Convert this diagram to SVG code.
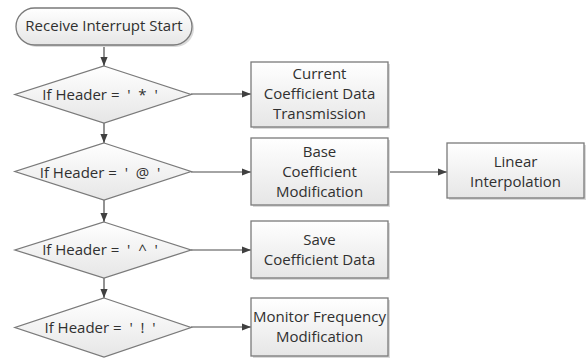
<svg xmlns="http://www.w3.org/2000/svg" width="586" height="359" viewBox="0 0 586 359">
<defs>
<linearGradient id="g" x1="0" y1="0" x2="0" y2="1">
<stop offset="0" stop-color="#ffffff"/>
<stop offset="1" stop-color="#e6e6e6"/>
</linearGradient>
<marker id="ah" viewBox="0 0 10 10" refX="10" refY="5" markerWidth="9" markerHeight="9" markerUnits="userSpaceOnUse" orient="auto">
<path d="M0,1 L10,5 L0,9 z" fill="#404040"/>
</marker>
</defs>
<style>
.s{fill:url(#g);stroke:#7a7a7a;stroke-width:1.3}
.sh{fill:#dadada;stroke:none}
.t{font-family:"Open Sans","Liberation Sans",sans-serif;font-size:15px;fill:#303030;text-anchor:middle;white-space:pre}
.c{stroke:#4a4a4a;stroke-width:1.2;fill:none;marker-end:url(#ah)}
</style>
<rect width="586" height="359" fill="#ffffff"/>
<g id="connectors">
<line class="c" x1="104" y1="45" x2="104" y2="66"/>
<line class="c" x1="104" y1="123" x2="104" y2="143"/>
<line class="c" x1="104" y1="200" x2="104" y2="222"/>
<line class="c" x1="104" y1="278" x2="104" y2="298"/>
<line class="c" x1="191" y1="94" x2="251" y2="94"/>
<line class="c" x1="191" y1="172" x2="251" y2="172"/>
<line class="c" x1="191" y1="250" x2="251" y2="250"/>
<line class="c" x1="191" y1="327" x2="251" y2="327"/>
<line class="c" x1="388" y1="172" x2="447" y2="172"/>
</g>
<g id="start">
<rect class="sh" x="18" y="10" width="176" height="37" rx="18.5"/>
<rect class="s" x="16" y="8" width="176" height="37" rx="18.5"/>
<text class="t" x="104" y="31">Receive Interrupt Start</text>
</g>
<g id="d1">
<polygon class="s" points="104,66 191,94.5 104,123 15,94.5"/>
<text class="t" x="100" y="100" xml:space="preserve">If Header =  '  *  '</text>
</g>
<g id="d2">
<polygon class="s" points="104,143 191,171.5 104,200 15,171.5"/>
<text class="t" x="100" y="178" xml:space="preserve">If Header =  '  @  '</text>
</g>
<g id="d3">
<polygon class="s" points="104,222 191,250 104,278 15,250"/>
<text class="t" x="100" y="255" xml:space="preserve">If Header =  '  ^  '</text>
</g>
<g id="d4">
<polygon class="s" points="104,298 191,327.5 104,357 15,327.5"/>
<text class="t" x="100" y="333" xml:space="preserve">If Header =  '  !  '</text>
</g>
<g id="b1">
<rect class="sh" x="253" y="64" width="137" height="65"/>
<rect class="s" x="251" y="62" width="137" height="65"/>
<text class="t" x="319.5" y="79">Current</text>
<text class="t" x="319.5" y="99">Coefficient Data</text>
<text class="t" x="319.5" y="119">Transmission</text>
</g>
<g id="b2">
<rect class="sh" x="253" y="140" width="137" height="67"/>
<rect class="s" x="251" y="138" width="137" height="67"/>
<text class="t" x="319.5" y="157">Base</text>
<text class="t" x="319.5" y="177">Coefficient</text>
<text class="t" x="319.5" y="197">Modification</text>
</g>
<g id="b3">
<rect class="sh" x="449" y="145" width="137" height="55"/>
<rect class="s" x="447" y="143" width="137" height="55"/>
<text class="t" x="515.5" y="167">Linear</text>
<text class="t" x="515.5" y="187">Interpolation</text>
</g>
<g id="b4">
<rect class="sh" x="253" y="223" width="137" height="57"/>
<rect class="s" x="251" y="221" width="137" height="57"/>
<text class="t" x="319.5" y="245">Save</text>
<text class="t" x="319.5" y="265">Coefficient Data</text>
</g>
<g id="b5">
<rect class="sh" x="253" y="300" width="137" height="58"/>
<rect class="s" x="251" y="298" width="137" height="58"/>
<text class="t" x="319.5" y="322">Monitor Frequency</text>
<text class="t" x="319.5" y="342">Modification</text>
</g>
</svg>
